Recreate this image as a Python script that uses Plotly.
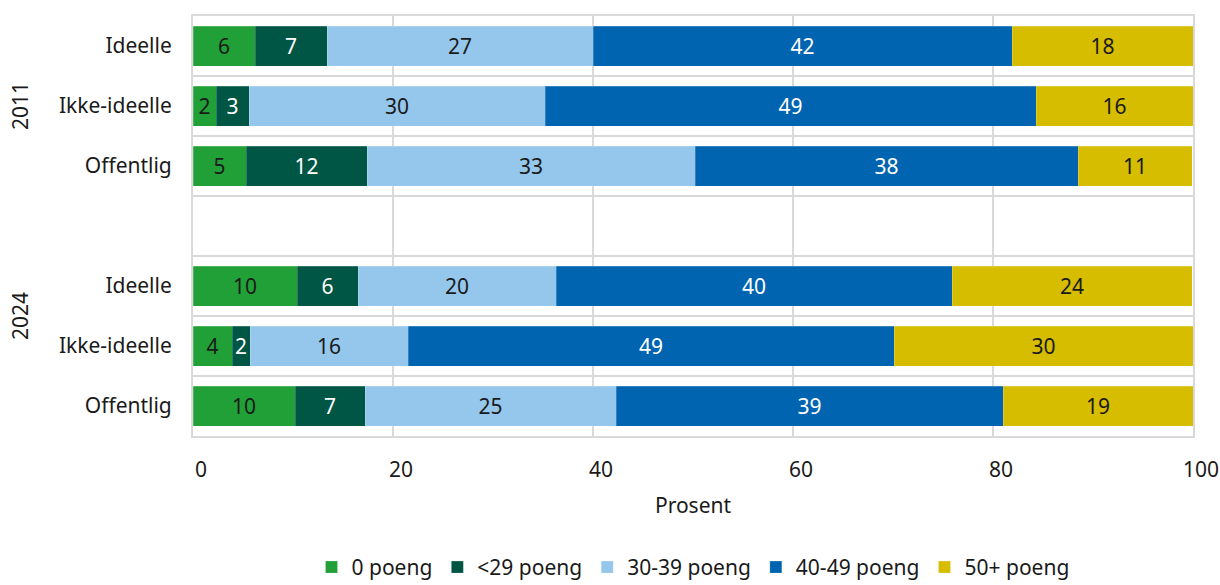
import plotly.graph_objects as go

# Rows (top to bottom); an empty row separates the two years
row_labels = ["Ideelle", "Ikke-ideelle", "Offentlig", "Ideelle", "Ikke-ideelle", "Offentlig"]
row_pos = [0, 1, 2, 4, 5, 6]
groups = ["2011", "2024"]

series_names = ["0 poeng", "<29 poeng", "30-39 poeng", "40-49 poeng", "50+ poeng"]
p0 = [6.2, 2.3, 5.3, 10.4, 3.9, 10.2]
p29 = [7.2, 3.3, 12.1, 6.1, 1.8, 7.0]
p30_39 = [26.6, 29.6, 32.8, 19.8, 15.8, 25.1]
p40_49 = [41.9, 49.1, 38.3, 39.6, 48.6, 38.7]
p50 = [18.1, 15.7, 11.4, 24.0, 29.9, 19.0]
series_values = [p0, p29, p30_39, p40_49, p50]

colors = ["#21a038", "#005644", "#95c7ec", "#0064b0", "#d6bd00"]
text_colors = ["#1a1a1a", "#ffffff", "#1a1a1a", "#ffffff", "#1a1a1a"]

FONT = "Noto Sans"
GRID = "#d9d9d9"
FS = 21

fig = go.Figure()
for name, vals, col, tcol in zip(series_names, series_values, colors, text_colors):
    fig.add_trace(go.Bar(
        x=vals, y=row_pos, orientation="h", name=name,
        marker=dict(color=col, line=dict(width=0.5, color="rgba(255,255,255,0.4)")),
        texttemplate="%{x:.0f}", textposition="inside", insidetextanchor="middle",
        textangle=0, constraintext="none",
        textfont=dict(family=FONT, size=FS, color=tcol),
        hoverinfo="x+name",
    ))

fig.update_layout(
    barmode="stack", bargap=1/3,
    width=1220, height=585,
    margin=dict(l=193, r=27, t=16, b=149),
    plot_bgcolor="white", paper_bgcolor="white",
    font=dict(family=FONT, size=FS, color="#1a1a1a"),
    uniformtext=dict(minsize=FS, mode="show"),
    legend=dict(orientation="h", x=0.5, xanchor="center", xref="paper",
                yref="container", y=0.03, yanchor="middle",
                font=dict(size=FS), traceorder="normal"),
    xaxis=dict(range=[0, 100], tickmode="linear", tick0=0, dtick=20,
               automargin=False,
               showgrid=True, gridcolor=GRID, gridwidth=2, zeroline=False,
               showline=True, linecolor=GRID, linewidth=2, mirror=True,
               ticks="", ticklabelstandoff=14, ticklabelshift=8,
               title=dict(text="Prosent", standoff=16, font=dict(size=FS))),
    yaxis=dict(range=[6.5, -0.5], tickmode="array", tickvals=row_pos, ticktext=row_labels,
               automargin=False,
               showgrid=False, zeroline=False,
               showline=True, linecolor=GRID, linewidth=2, mirror=True,
               ticks="", ticklabelstandoff=15,
               minor=dict(tickmode="array", tickvals=[0.5, 1.5, 2.5, 3.5, 4.5, 5.5],
                          showgrid=True, gridcolor=GRID, gridwidth=2, ticks="")),
)

group_y = [1, 4.5]
for g, gy in zip(groups, group_y):
    fig.add_annotation(text=g, xref="paper", yref="y", x=-0.173, y=gy,
                       textangle=-90, showarrow=False, xanchor="center", yanchor="middle",
                       font=dict(family=FONT, size=FS, color="#1a1a1a"))

# remove the default page margin so the 1220x585 figure fills the window exactly
fig.write_html(
    "out.html",
    config={"displayModeBar": False},
    post_script="document.body.style.margin='0';document.body.style.overflow='hidden';",
)
